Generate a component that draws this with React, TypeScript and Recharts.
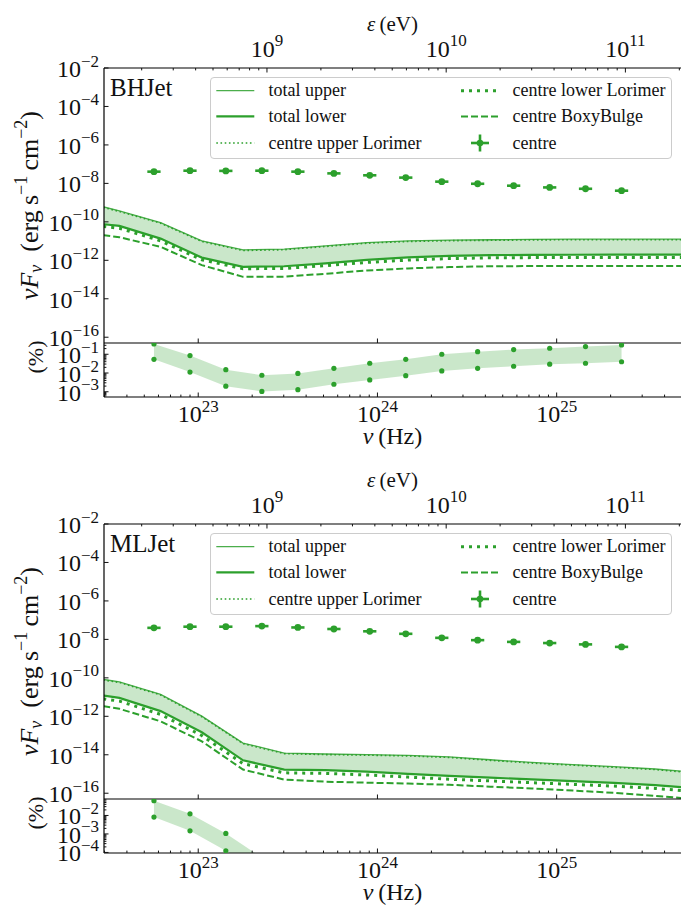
import React from "react";
import { ComposedChart, Line, Area, Scatter, XAxis, YAxis, ErrorBar, Legend } from "recharts";

const GREEN = "#2ca02c";
const INK = "#111111";
const FONT = "'Liberation Serif', 'DejaVu Serif', serif";
const H_EV = 4.135667e-15; // eV per Hz
const NU_MIN = 2.98e22;
const NU_MAX = 4.94e25;

// model curves: log10(nu / Hz) grid and log10(nuFnu / erg s^-1 cm^-2)
const modelLogNu = [22.47, 22.56, 22.79, 23.02, 23.25, 23.48, 23.71, 23.94, 24.17, 24.4, 24.63, 24.86, 25.09, 25.32, 25.55, 25.7];

const bhTotalUpper = [-9.22, -9.43, -10.04, -10.99, -11.46, -11.42, -11.25, -11.08, -10.99, -10.95, -10.93, -10.91, -10.9, -10.9, -10.9, -10.9];
const bhTotalLower = [-10.12, -10.21, -10.87, -11.86, -12.34, -12.31, -12.16, -11.98, -11.85, -11.77, -11.73, -11.72, -11.71, -11.7, -11.7, -11.7];
const bhCentreUpperLorimer = [-9.25, -9.46, -10.07, -11.02, -11.49, -11.45, -11.28, -11.11, -11.02, -10.98, -10.96, -10.94, -10.93, -10.93, -10.93, -10.93];
const bhCentreLowerLorimer = [-10.24, -10.33, -10.99, -11.97, -12.44, -12.42, -12.28, -12.11, -11.99, -11.91, -11.87, -11.86, -11.85, -11.85, -11.85, -11.85];
const bhCentreBoxy = [-10.69, -10.8, -11.3, -12.25, -12.86, -12.85, -12.7, -12.53, -12.42, -12.35, -12.31, -12.3, -12.29, -12.29, -12.29, -12.29];

const mlTotalUpper = [-10.08, -10.21, -10.86, -11.99, -13.39, -13.91, -13.96, -13.99, -14.03, -14.11, -14.26, -14.4, -14.51, -14.62, -14.74, -14.86];
const mlTotalLower = [-10.92, -11.04, -11.73, -12.83, -14.29, -14.77, -14.8, -14.88, -14.99, -15.1, -15.19, -15.28, -15.37, -15.46, -15.58, -15.69];
const mlCentreUpperLorimer = [-10.11, -10.24, -10.89, -12.02, -13.42, -13.94, -13.99, -14.02, -14.06, -14.14, -14.29, -14.43, -14.54, -14.65, -14.77, -14.89];
const mlCentreLowerLorimer = [-11.09, -11.21, -11.9, -13.0, -14.46, -14.94, -14.97, -15.05, -15.16, -15.27, -15.36, -15.45, -15.54, -15.63, -15.75, -15.86];
const mlCentreBoxy = [-11.47, -11.61, -12.26, -13.3, -14.77, -15.29, -15.4, -15.45, -15.5, -15.56, -15.66, -15.75, -15.86, -15.98, -16.14, -16.25];

// "centre" measured points
const centreLogNu = [22.753, 22.954, 23.154, 23.355, 23.556, 23.757, 23.957, 24.158, 24.359, 24.559, 24.76, 24.961, 25.161, 25.362];
const bhCentreFlux = [-7.39, -7.34, -7.35, -7.34, -7.39, -7.48, -7.58, -7.7, -7.91, -8.02, -8.12, -8.21, -8.28, -8.38];
const mlCentreFlux = [-7.4, -7.34, -7.34, -7.31, -7.38, -7.46, -7.58, -7.71, -7.92, -8.04, -8.13, -8.19, -8.26, -8.39];
const centreLogNuErr = 0.037;
const centreLogFluxErr = 0.06;

// residual (%) bands, log10
const bhResUpper = [-0.45, -1.07, -1.82, -2.12, -2.02, -1.75, -1.48, -1.27, -1.0, -0.86, -0.75, -0.68, -0.59, -0.5];
const bhResLower = [-1.27, -1.95, -2.7, -2.98, -2.89, -2.6, -2.37, -2.14, -1.89, -1.75, -1.64, -1.53, -1.48, -1.4];
const mlResUpper = [-1.2, -1.91, -2.97, -4.28, -4.9, -5.2, -5.4, -5.5, -5.6, -5.7, -5.8, -5.9, -6.0, -6.1];
const mlResLower = [-2.09, -2.83, -3.91, -5.1, -5.7, -6.0, -6.2, -6.3, -6.4, -6.5, -6.6, -6.7, -6.8, -6.9];

// ticks
const nuMajorTicks = [1e23, 1e24, 1e25];
const nuAllTicks = [3e22, 4e22, 5e22, 6e22, 7e22, 8e22, 9e22, 1e23, 2e23, 3e23, 4e23, 5e23, 6e23, 7e23, 8e23, 9e23, 1e24, 2e24, 3e24, 4e24, 5e24, 6e24, 7e24, 8e24, 9e24, 1e25, 2e25, 3e25, 4e25];
const evTicks = [2e8, 3e8, 4e8, 5e8, 6e8, 7e8, 8e8, 9e8, 1e9, 2e9, 3e9, 4e9, 5e9, 6e9, 7e9, 8e9, 9e9, 1e10, 2e10, 3e10, 4e10, 5e10, 6e10, 7e10, 8e10, 9e10, 1e11, 2e11];
const mainYTicks = [1e-16, 1e-14, 1e-12, 1e-10, 1e-8, 1e-6, 1e-4, 1e-2];
const bhResTicks = [6e-4, 7e-4, 8e-4, 9e-4, 1e-3, 2e-3, 3e-3, 4e-3, 5e-3, 6e-3, 7e-3, 8e-3, 9e-3, 1e-2, 2e-2, 3e-2, 4e-2, 5e-2, 6e-2, 7e-2, 8e-2, 9e-2, 1e-1, 2e-1, 3e-1];
const mlResTicks = [1e-4, 2e-4, 3e-4, 4e-4, 5e-4, 6e-4, 7e-4, 8e-4, 9e-4, 1e-3, 2e-3, 3e-3, 4e-3, 5e-3, 6e-3, 7e-3, 8e-3, 9e-3, 1e-2, 2e-2, 3e-2, 4e-2, 5e-2, 6e-2, 7e-2];

const mainYDomainLog = [-16.3, -2];
const bhResDomainLog = [-3.28, -0.4];
const mlResDomainLog = [-4.03, -1.11];

const legendLabels = ["total upper", "total lower", "centre upper Lorimer", "centre lower Lorimer", "centre BoxyBulge", "centre"];

// ---- tables
const p10 = (v: number) => Math.pow(10, v);
const buildModel = (up: number[], lo: number[], cu: number[], cl: number[], bx: number[]) =>
  modelLogNu.map((l, i) => ({
    nu: p10(l),
    band: [p10(lo[i]), p10(up[i])],
    upper: p10(up[i]),
    lower: p10(lo[i]),
    centreUpper: p10(cu[i]),
    centreLower: p10(cl[i]),
    boxy: p10(bx[i]),
  }));
const buildCentre = (flux: number[]) =>
  centreLogNu.map((l, i) => {
    const nu = p10(l);
    const f = p10(flux[i]);
    return {
      nu,
      flux: f,
      xErr: [nu - nu * p10(-centreLogNuErr), nu * p10(centreLogNuErr) - nu],
      yErr: [f - f * p10(-centreLogFluxErr), f * p10(centreLogFluxErr) - f],
    };
  });
const buildRes = (up: number[], lo: number[]) =>
  centreLogNu.map((l, i) => ({ nu: p10(l), band: [p10(lo[i]), p10(up[i])], upper: p10(up[i]), lower: p10(lo[i]) }));

const panels = [
  {
    name: "BHJet",
    top: 0,
    model: buildModel(bhTotalUpper, bhTotalLower, bhCentreUpperLorimer, bhCentreLowerLorimer, bhCentreBoxy),
    centre: buildCentre(bhCentreFlux),
    res: buildRes(bhResUpper, bhResLower),
    resDomain: bhResDomainLog,
    resTicks: bhResTicks,
  },
  {
    name: "MLJet",
    top: 456,
    model: buildModel(mlTotalUpper, mlTotalLower, mlCentreUpperLorimer, mlCentreLowerLorimer, mlCentreBoxy),
    centre: buildCentre(mlCentreFlux),
    res: buildRes(mlResUpper, mlResLower),
    resDomain: mlResDomainLog,
    resTicks: mlResTicks,
  },
];

// ---- tick helpers
const lg = (v: number) => Math.log10(v);
const isDecade = (v: number) => Math.abs(lg(v) - Math.round(lg(v))) < 1e-6;
const expOf = (v: number) => {
  const e = Math.round(lg(v));
  return (e < 0 ? "\u2212" : "") + Math.abs(e);
};

const Pow10 = ({ x, y, v, anchor }: any) => (
  <text x={x} y={y} textAnchor={anchor} fontFamily={FONT} fill={INK}>
    <tspan fontSize={24}>10</tspan>
    <tspan fontSize={17} dy={-10.5}>{expOf(v)}</tspan>
  </text>
);

const LeftTick = (p: any) => {
  const v = p.payload.value;
  const major = isDecade(v);
  return (
    <g>
      <line x1={p.x} y1={p.y} x2={p.x + (major ? 4.5 : 2.4)} y2={p.y} stroke={INK} strokeWidth={1} />
      {major ? <Pow10 x={p.x - 5} y={p.y + 9} v={v} anchor="end" /> : null}
    </g>
  );
};
const TopTick = (p: any) => {
  const v = p.payload.value;
  const major = isDecade(v);
  return (
    <g>
      <line x1={p.x} y1={p.y} x2={p.x} y2={p.y + (major ? 4.5 : 2.4)} stroke={INK} strokeWidth={1} />
      {major ? <Pow10 x={p.x} y={p.y - 11.5} v={v} anchor="middle" /> : null}
    </g>
  );
};
const BottomBareTick = (p: any) => (
  <line x1={p.x} y1={p.y} x2={p.x} y2={p.y - 4.5} stroke={INK} strokeWidth={1} />
);
const BottomTick = (p: any) => {
  const v = p.payload.value;
  const major = isDecade(v);
  return (
    <g>
      <line x1={p.x} y1={p.y} x2={p.x} y2={p.y - (major ? 4.5 : 2.4)} stroke={INK} strokeWidth={1} />
      {major ? <Pow10 x={p.x} y={p.y + 25} v={v} anchor="middle" /> : null}
    </g>
  );
};

// ---- axis titles
const MainYTitle = (p: any) => {
  const vb = p.viewBox;
  const cx = vb.x + 30;
  const cy = vb.y + vb.height / 2;
  return (
    <text x={cx} y={cy + 8} transform={`rotate(-90 ${cx} ${cy})`} textAnchor="middle" fontFamily={FONT} fontSize={26} fill={INK}>
      <tspan fontStyle="italic">{"\u03bdF"}</tspan>
      <tspan fontStyle="italic" fontSize={18} dy={4}>{"\u03bd"}</tspan>
      <tspan dy={-4}>{"\u2002(erg\u2009s"}</tspan>
      <tspan fontSize={18} dy={-11}>{"\u22121"}</tspan>
      <tspan dy={11}>{"\u2009cm"}</tspan>
      <tspan fontSize={18} dy={-11}>{"\u22122"}</tspan>
      <tspan dy={11}>)</tspan>
    </text>
  );
};
const ResYTitle = (p: any) => {
  const vb = p.viewBox;
  const cx = vb.x + 36;
  const cy = vb.y + vb.height / 2 - 13;
  return (
    <text x={cx} y={cy + 6.5} transform={`rotate(-90 ${cx} ${cy})`} textAnchor="middle" fontFamily={FONT} fontSize={22} fill={INK}>
      (%)
    </text>
  );
};
const TopTitle = (p: any) => {
  const vb = p.viewBox;
  return (
    <text x={vb.x + vb.width / 2} y={vb.y + 31} textAnchor="middle" fontFamily={FONT} fontSize={21} fill={INK}>
      <tspan fontStyle="italic">{"\u03b5"}</tspan>
      <tspan>{"\u2009(eV)"}</tspan>
    </text>
  );
};
const BottomTitle = (p: any) => {
  const vb = p.viewBox;
  return (
    <text x={vb.x + vb.width / 2} y={vb.y + 47} textAnchor="middle" fontFamily={FONT} fontSize={24} fill={INK}>
      <tspan fontStyle="italic">{"\u03bd"}</tspan>
      <tspan>{"\u2009(Hz)"}</tspan>
    </text>
  );
};

// ---- legend
const sampleStyles = [
  { w: 1.3, op: 0.85, dash: undefined as string | undefined },
  { w: 2.3, op: 1, dash: undefined },
  { w: 1.6, op: 1, dash: "1.6 2.6" },
  { w: 3, op: 1, dash: "3 5" },
  { w: 2, op: 1, dash: "7 3" },
];
const LegendBox = () => {
  const colX = [6.3, 251];
  const textX = [58.6, 302.6];
  const rowY = [13.7, 39.4, 66];
  return (
    <svg width={462} height={82} style={{ display: "block", overflow: "visible" }}>
      <rect x={0.5} y={0.5} width={461} height={81} rx={3.5} fill="#ffffff" fillOpacity={0.8} stroke="#cccccc" strokeWidth={1} />
      {legendLabels.map((label, i) => {
        const col = i < 3 ? 0 : 1;
        const row = i % 3;
        const y = rowY[row];
        const x0 = colX[col];
        const s = sampleStyles[i];
        return (
          <g key={label}>
            {s ? (
              <line x1={x0} x2={x0 + 38} y1={y} y2={y} stroke={GREEN} strokeWidth={s.w} strokeOpacity={s.op} strokeDasharray={s.dash} />
            ) : (
              <g>
                <line x1={x0 + 10} x2={x0 + 28} y1={y} y2={y} stroke={GREEN} strokeWidth={2.6} />
                <line x1={x0 + 19} x2={x0 + 19} y1={y - 8.5} y2={y + 8.5} stroke={GREEN} strokeWidth={2.6} />
                <circle cx={x0 + 19} cy={y} r={3.3} fill={GREEN} />
              </g>
            )}
            <text x={textX[col]} y={y + 5.5} fontFamily={FONT} fontSize={18} fill={INK}>
              {label}
            </text>
          </g>
        );
      })}
    </svg>
  );
};

const CentreDot = (p: any) => <circle cx={p.cx} cy={p.cy} r={3.4} fill={GREEN} />;
const ResDot = (p: any) => <circle cx={p.cx} cy={p.cy} r={2.6} fill={GREEN} />;

const axisLine = { stroke: "#000", strokeWidth: 1.2 };

function Panel({ panel }: { panel: (typeof panels)[number] }) {
  const nuDomain = [NU_MIN, NU_MAX];
  const evDomain = [NU_MIN * H_EV, NU_MAX * H_EV];
  return (
    <>
      <div style={{ position: "absolute", left: 0, top: panel.top, width: 681, height: 344 }}>
        <ComposedChart width={681} height={344} margin={{ top: 0, right: 0, bottom: 0, left: 0 }}>
          <XAxis
            xAxisId="nu"
            dataKey="nu"
            type="number"
            scale="log"
            domain={nuDomain}
            allowDataOverflow
            ticks={nuMajorTicks}
            interval={0}
            height={1}
            tickSize={0}
            tickMargin={0}
            tickLine={false}
            axisLine={axisLine}
            tick={BottomBareTick}
          />
          <XAxis
            xAxisId="ev"
            dataKey="ev"
            orientation="top"
            type="number"
            scale="log"
            domain={evDomain}
            allowDataOverflow
            ticks={evTicks}
            interval={0}
            height={68}
            tickSize={0}
            tickMargin={0}
            tickLine={false}
            axisLine={axisLine}
            tick={TopTick}
            label={TopTitle}
          />
          <YAxis
            type="number"
            scale="log"
            domain={[p10(mainYDomainLog[0]), p10(mainYDomainLog[1])]}
            allowDataOverflow
            ticks={mainYTicks}
            interval={0}
            width={104}
            tickSize={0}
            tickMargin={0}
            tickLine={false}
            axisLine={axisLine}
            tick={LeftTick}
            label={MainYTitle}
          />
          <Area xAxisId="nu" data={panel.model} dataKey="band" type="linear" stroke="none" fill={GREEN} fillOpacity={0.25} dot={false} activeDot={false} isAnimationActive={false} />
          <Line xAxisId="nu" data={panel.model} dataKey="upper" type="linear" stroke={GREEN} strokeOpacity={0.85} strokeWidth={1.3} dot={false} activeDot={false} isAnimationActive={false} />
          <Line xAxisId="nu" data={panel.model} dataKey="lower" type="linear" stroke={GREEN} strokeWidth={2.2} dot={false} activeDot={false} isAnimationActive={false} />
          <Line xAxisId="nu" data={panel.model} dataKey="centreUpper" type="linear" stroke={GREEN} strokeWidth={1.6} strokeDasharray="1.6 2.6" dot={false} activeDot={false} isAnimationActive={false} />
          <Line xAxisId="nu" data={panel.model} dataKey="centreLower" type="linear" stroke={GREEN} strokeWidth={3} strokeDasharray="3 5" dot={false} activeDot={false} isAnimationActive={false} />
          <Line xAxisId="nu" data={panel.model} dataKey="boxy" type="linear" stroke={GREEN} strokeWidth={2} strokeDasharray="7 3" dot={false} activeDot={false} isAnimationActive={false} />
          <Scatter xAxisId="nu" data={panel.centre} dataKey="flux" fill={GREEN} shape={CentreDot} isAnimationActive={false}>
            <ErrorBar dataKey="xErr" direction="x" width={0} stroke={GREEN} strokeWidth={2.6} isAnimationActive={false} />
            <ErrorBar dataKey="yErr" direction="y" width={0} stroke={GREEN} strokeWidth={2.6} isAnimationActive={false} />
          </Scatter>
          <Legend
            layout="horizontal"
            verticalAlign="middle"
            align="center"
            content={LegendBox}
            wrapperStyle={{ position: "absolute", left: 210, top: 77, width: 462, height: 82, margin: 0, padding: 0 }}
          />
        </ComposedChart>
      </div>
      <div style={{ position: "absolute", left: 0, top: panel.top + 343, width: 681, height: 114 }}>
        <ComposedChart width={681} height={114} margin={{ top: 0, right: 0, bottom: 0, left: 0 }}>
          <XAxis
            xAxisId="nu"
            dataKey="nu"
            type="number"
            scale="log"
            domain={nuDomain}
            allowDataOverflow
            ticks={nuAllTicks}
            interval={0}
            height={60}
            tickSize={0}
            tickMargin={0}
            tickLine={false}
            axisLine={axisLine}
            tick={BottomTick}
            label={BottomTitle}
          />
          <YAxis
            type="number"
            scale="log"
            domain={[p10(panel.resDomain[0]), p10(panel.resDomain[1])]}
            allowDataOverflow
            ticks={panel.resTicks}
            interval={0}
            width={104}
            tickSize={0}
            tickMargin={0}
            tickLine={false}
            axisLine={axisLine}
            tick={LeftTick}
            label={ResYTitle}
          />
          <Area xAxisId="nu" data={panel.res} dataKey="band" type="linear" stroke="none" fill={GREEN} fillOpacity={0.25} dot={false} activeDot={false} isAnimationActive={false} />
          <Scatter xAxisId="nu" data={panel.res} dataKey="upper" fill={GREEN} shape={ResDot} isAnimationActive={false} />
          <Scatter xAxisId="nu" data={panel.res} dataKey="lower" fill={GREEN} shape={ResDot} isAnimationActive={false} />
        </ComposedChart>
      </div>
      <svg style={{ position: "absolute", left: 0, top: panel.top, width: 681, height: 120, overflow: "visible", pointerEvents: "none" }}>
        <text x={110} y={96} fontFamily={FONT} fontSize={25} fill={INK}>
          {panel.name}
        </text>
      </svg>
    </>
  );
}

export default function App() {
  return (
    <div style={{ position: "absolute", left: 0, top: 0, width: 681, height: 910, background: "#ffffff", overflow: "hidden" }}>
      <style>{`.recharts-surface{overflow:visible}`}</style>
      {panels.map((p) => (
        <Panel key={p.name} panel={p} />
      ))}
    </div>
  );
}
